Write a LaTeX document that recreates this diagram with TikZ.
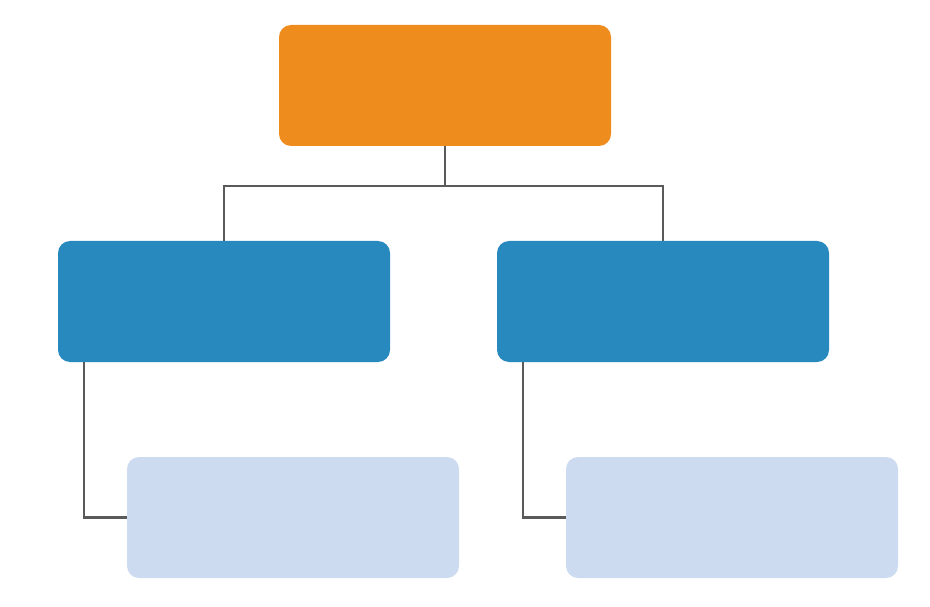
\documentclass[tikz,border=0pt]{standalone}
\usetikzlibrary{positioning}
\definecolor{topcol}{HTML}{EF8C1E}
\definecolor{midcol}{HTML}{2889BE}
\definecolor{lowcol}{HTML}{CCDBEF}
\definecolor{linecol}{HTML}{5A5A5A}
\tikzstyle{unit} = [ rectangle, rounded corners = 0.24cm, minimum width = 6.64cm, minimum height = 2.42cm, inner sep = 0pt, outer sep = 0pt]
\tikzstyle{link} = [ draw = linecol, line width = 1.4pt]

\begin{document}
\begin{tikzpicture}
	\useasboundingbox (0,0) rectangle (18.6,12.12);
	\node[unit, fill=topcol] (head) at ( 8.9, 10.41 ) {};
	\node[unit, fill=midcol] (deptA) at ( 4.48, 6.09 ) {};
	\node[unit, fill=midcol] (deptB) at ( 13.26, 6.09 ) {};
	\node[unit, fill=lowcol] (teamA) at ( 5.86, 1.77 ) {};
	\node[unit, fill=lowcol] (teamB) at ( 14.64, 1.77 ) {};

	\coordinate (split) at ( 8.9, 8.4 );
	\draw[link](head.south) -- (split);
	\draw[link](split) -| (deptA.north);
	\draw[link](split) -| (deptB.north);
	\draw[link]([xshift=0.52cm]deptA.south west) |- (teamA.west);
	\draw[link]([xshift=0.52cm]deptB.south west) |- (teamB.west);
\end{tikzpicture}
\end{document}
